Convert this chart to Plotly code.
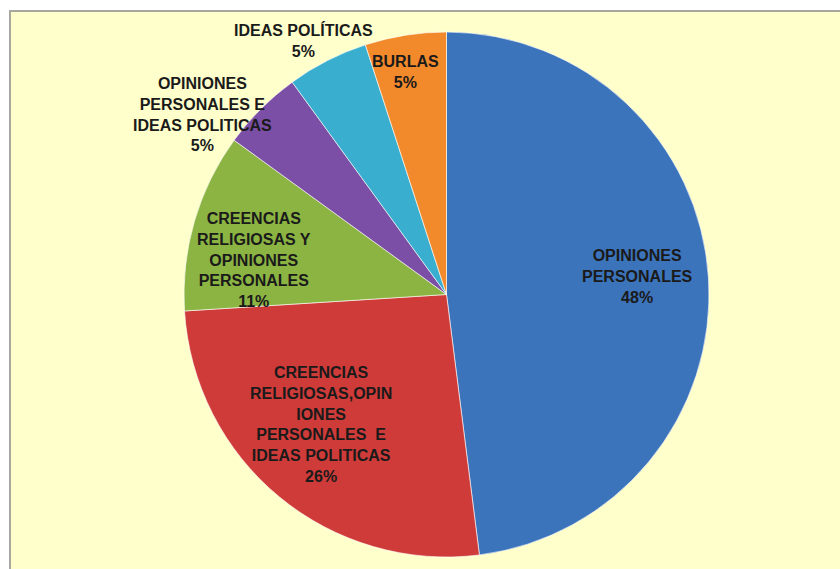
import plotly.graph_objects as go

categories = [
    "OPINIONES PERSONALES",
    "CREENCIAS RELIGIOSAS,OPINIONES PERSONALES E IDEAS POLITICAS",
    "CREENCIAS RELIGIOSAS Y OPINIONES PERSONALES",
    "OPINIONES PERSONALES E IDEAS POLITICAS",
    "IDEAS POLÍTICAS",
    "BURLAS",
]
values = [48, 26, 11, 5, 5, 5]
display_labels = [
    "OPINIONES<br>PERSONALES",
    "CREENCIAS<br>RELIGIOSAS,OPIN<br>IONES<br>PERSONALES  E<br>IDEAS POLITICAS",
    "CREENCIAS<br>RELIGIOSAS Y<br>OPINIONES<br>PERSONALES",
    "OPINIONES<br>PERSONALES E<br>IDEAS POLITICAS",
    "IDEAS POLÍTICAS",
    "BURLAS",
]
colors = ["#3C74BC", "#CF3B39", "#8CB443", "#7B4FA5", "#39AECF", "#F2892B"]

W, H = 840, 569
# label centre positions in pixels (x, y from top)
label_pos = [(637, 277), (321, 424), (254, 260), (202, 115), (303, 40), (405, 72)]

fig = go.Figure(go.Pie(
    labels=categories,
    values=values,
    sort=False,
    direction="clockwise",
    rotation=0,
    marker=dict(colors=colors, line=dict(color="rgba(255,255,255,0.6)", width=1)),
    textinfo="none",
    hoverinfo="label+percent",
    showlegend=False,
    domain=dict(x=[181 / W, 712 / W], y=[1 - 557 / H, 1 - 32 / H]),
))

for lab, v, (px, py) in zip(display_labels, values, label_pos):
    fig.add_annotation(
        x=px / W, y=1 - py / H, xref="paper", yref="paper",
        text=f"<b>{lab}<br>{v}%</b>", showarrow=False,
        xanchor="center", yanchor="middle", align="center",
        font=dict(family="Liberation Sans, Arial, sans-serif", size=16, color="#1a1a1a"),
    )

fig.add_shape(
    type="rect", xref="paper", yref="paper",
    x0=10 / W, x1=1.02, y0=-0.02, y1=1 - 11 / H,
    fillcolor="#FFFFCC", line=dict(color="#A8A8A0", width=2), layer="below",
)

fig.update_layout(
    width=W, height=H,
    margin=dict(l=0, r=0, t=0, b=0),
    paper_bgcolor="white",
    plot_bgcolor="white",
)

fig.write_html("out.html")
